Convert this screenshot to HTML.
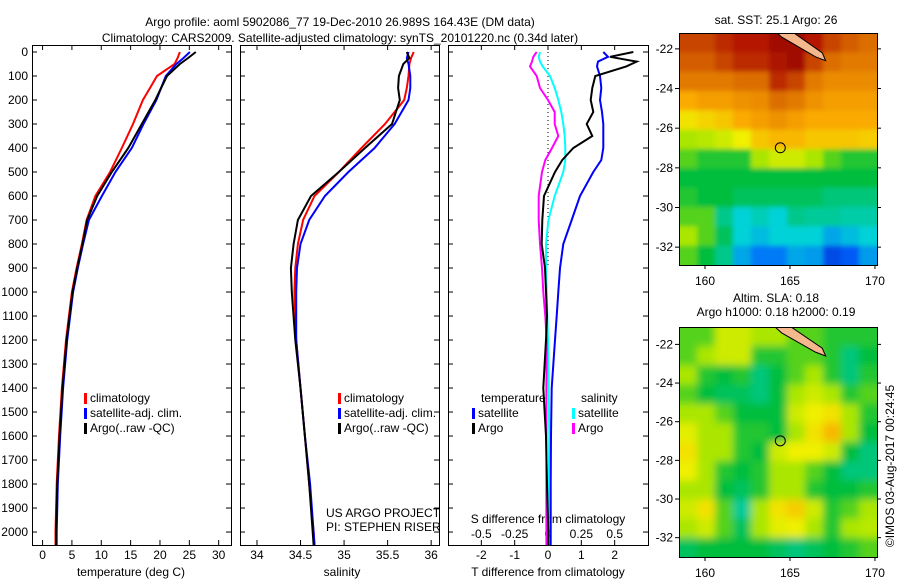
<!DOCTYPE html>
<html><head><meta charset="utf-8"><style>
body{margin:0;background:#fff;width:900px;height:580px;overflow:hidden}
svg{font-family:"Liberation Sans",sans-serif;font-size:12px}
</style></head><body>
<svg id="c" width="900" height="580">
<defs>
<filter id="blurS" x="-5%" y="-5%" width="110%" height="110%"><feGaussianBlur stdDeviation="2.5"/></filter>
<filter id="blurL" x="-5%" y="-5%" width="110%" height="110%"><feGaussianBlur stdDeviation="4"/></filter>
<clipPath id="clip1"><rect x="679" y="33" width="198" height="232"/></clipPath>
<clipPath id="clip2"><rect x="679" y="327" width="198" height="230"/></clipPath>
</defs>
</svg>
<script>
// ---- data ----
const depths=[0,25,50,100,150,200,300,400,500,600,700,800,900,1000,1200,1400,1600,1800,2000,2054];
const tempClim=[23.4,23.0,22.5,19.5,18.3,17.1,15.4,13.5,11.5,9.0,7.5,6.7,5.8,5.0,4.0,3.3,2.8,2.4,2.2,2.2];
const tempSat=[25.1,24.0,22.8,21.0,20.2,19.4,17.2,15.2,12.4,10.1,7.9,6.9,6.0,5.2,4.2,3.5,3.0,2.6,2.4,2.4];
const tempArgo=[26.1,24.8,23.4,21.2,20.2,19.2,16.9,14.6,11.8,9.3,7.6,6.8,5.9,5.1,4.1,3.4,2.9,2.5,2.3,2.3];
const salClim=[35.80,35.77,35.75,35.74,35.72,35.69,35.47,35.20,34.94,34.66,34.53,34.47,34.44,34.43,34.45,34.50,34.55,34.60,34.65,34.66];
const salSat=[35.74,35.72,35.74,35.76,35.76,35.74,35.58,35.35,35.05,34.78,34.60,34.50,34.46,34.45,34.45,34.50,34.55,34.61,34.65,34.66];
const salArgo=[35.72,35.75,35.68,35.63,35.62,35.64,35.55,35.24,34.94,34.62,34.47,34.42,34.39,34.40,34.44,34.50,34.55,34.60,34.64,34.65];
const dDepths=[0,20,40,60,100,150,200,250,300,350,400,450,500,600,700,800,900,1000,1100,1200,1400,1600,1800,2000,2054];
const dTSat=[1.66,1.80,1.50,1.47,1.56,1.60,1.56,1.62,1.66,1.66,1.66,1.60,1.36,0.96,0.71,0.46,0.36,0.31,0.26,0.21,0.11,0.09,0.08,0.08,0.08];
const dTArgo=[2.56,1.86,2.66,2.35,1.42,1.33,1.28,1.36,1.16,1.33,0.76,0.43,0.21,-0.12,-0.17,-0.19,-0.09,-0.06,-0.03,-0.06,-0.14,-0.06,-0.03,0.01,0.01];
const dSSat=[-0.06,-0.07,-0.06,-0.04,0.015,0.05,0.077,0.10,0.115,0.125,0.13,0.13,0.115,0.05,0.003,-0.015,-0.015,-0.01,-0.005,0,0.005,0.01,0.005,0.005,0.005];
const dSArgo=[-0.085,-0.11,-0.12,-0.135,-0.085,-0.06,0,0.05,0.05,0.077,0.03,-0.02,-0.045,-0.07,-0.07,-0.06,-0.045,-0.035,-0.02,-0.01,-0.012,-0.012,-0.012,-0.012,-0.012];
const depthTicks=[0,100,200,300,400,500,600,700,800,900,1000,1100,1200,1300,1400,1500,1600,1700,1800,1900,2000];
const tTicks=[0,5,10,15,20,25,30];
const sTicks=[34,34.5,35,35.5,36];
const sTickLabels=["34","34.5","35","35.5","36"];
const dtTicks=[-2,-1,0,1,2];
const dsTicks=[-0.5,-0.25,0,0.25,0.5];
const dsTickLabels=["-0.5","-0.25","0","0.25","0.5"];
const lonTicks=[160,165,170];
const latTicks=[-22,-24,-26,-28,-30,-32];
const argoLon=164.43, argoLat=-26.989;
const sstGrid=[
[0.85,0.85,0.88,0.9,0.9,0.95,0.95,0.9,0.85,0.82,0.8],
[0.82,0.82,0.85,0.88,0.88,0.92,0.95,0.85,0.8,0.78,0.78],
[0.78,0.78,0.78,0.8,0.8,0.88,0.85,0.78,0.75,0.75,0.75],
[0.7,0.72,0.72,0.74,0.75,0.8,0.78,0.74,0.72,0.72,0.72],
[0.62,0.64,0.66,0.7,0.72,0.74,0.72,0.7,0.7,0.7,0.7],
[0.5,0.52,0.55,0.6,0.66,0.68,0.68,0.66,0.66,0.66,0.65],
[0.45,0.42,0.42,0.42,0.5,0.55,0.55,0.5,0.45,0.42,0.42],
[0.4,0.4,0.4,0.4,0.4,0.4,0.4,0.4,0.4,0.4,0.4],
[0.42,0.4,0.4,0.38,0.38,0.38,0.38,0.38,0.36,0.36,0.36],
[0.45,0.45,0.35,0.3,0.32,0.3,0.35,0.34,0.34,0.33,0.33],
[0.5,0.45,0.38,0.3,0.28,0.3,0.3,0.3,0.26,0.28,0.3],
[0.45,0.4,0.35,0.26,0.22,0.22,0.26,0.25,0.15,0.18,0.25]];
const slaGrid=[
[0.45,0.45,0.55,0.55,0.5,0.5,0.45,0.45,0.42,0.42,0.42],
[0.45,0.5,0.55,0.55,0.42,0.42,0.45,0.45,0.42,0.36,0.4],
[0.5,0.42,0.4,0.42,0.36,0.4,0.45,0.5,0.42,0.36,0.42],
[0.45,0.4,0.38,0.38,0.36,0.4,0.5,0.55,0.5,0.42,0.45],
[0.5,0.5,0.45,0.4,0.4,0.4,0.55,0.6,0.62,0.5,0.42],
[0.58,0.5,0.5,0.42,0.42,0.4,0.5,0.62,0.68,0.5,0.4],
[0.62,0.5,0.5,0.42,0.4,0.55,0.6,0.6,0.55,0.4,0.36],
[0.6,0.5,0.42,0.4,0.42,0.5,0.5,0.45,0.4,0.36,0.36],
[0.5,0.5,0.4,0.38,0.42,0.5,0.5,0.42,0.4,0.4,0.42],
[0.55,0.62,0.45,0.34,0.5,0.62,0.65,0.55,0.42,0.45,0.5],
[0.5,0.55,0.45,0.38,0.5,0.58,0.6,0.5,0.42,0.5,0.52],
[0.38,0.4,0.4,0.4,0.4,0.38,0.36,0.38,0.4,0.42,0.45]];

// ---- drawing ----
const svg=document.getElementById('c');
const NS='http://www.w3.org/2000/svg';
function el(tag,attrs,parent){const e=document.createElementNS(NS,tag);for(const k in attrs)e.setAttribute(k,attrs[k]);(parent||svg).appendChild(e);return e;}
function txt(x,y,s,anchor,parent,size){const t=el('text',{x:x,y:y,'text-anchor':anchor||'start',fill:'#000'},parent);if(size)t.setAttribute('font-size',size);t.textContent=s;return t;}
function lin(d0,d1,p0,p1){return v=>p0+(v-d0)*(p1-p0)/(d1-d0);}
const Y0=52,Y1=545;
const yD=lin(0,2054,Y0,Y1);

function panel(name,x0,x1,xmin,xmax){
  const g=el('g',{},svg);
  
  
  el('rect',{x:x0+0.5,y:Y0-7+0.5,width:x1-x0,height:Y1-Y0+7,fill:'none',stroke:'#000','stroke-width':1},g);
  return {g:g,x:lin(xmin,xmax,x0,x1),x0:x0,x1:x1};
}
function line(p,xs,ys,yfun,color,name){
  const pts=xs.map((v,i)=>p.x(v).toFixed(1)+','+yfun(ys[i]).toFixed(1)).join(' ');
  const l=el('polyline',{points:pts,fill:'none',stroke:color,'stroke-width':2},p.g);
  
  
}
function xticks(p,ticks,labels,ly){
  ticks.forEach((t,i)=>{const x=p.x(t);
    el('line',{x1:x,x2:x,y1:Y1,y2:Y1-5,stroke:'#000'},p.g);
    el('line',{x1:x,x2:x,y1:Y0-7,y2:Y0-2,stroke:'#000'},p.g);
    txt(x,ly,labels?labels[i]:String(t),'middle',p.g);});
}
function yticks(p,labels){
  depthTicks.forEach(d=>{const y=yD(d);
    el('line',{x1:p.x0,x2:p.x0+5,y1:y,y2:y,stroke:'#000'},p.g);
    el('line',{x1:p.x1-5,x2:p.x1,y1:y,y2:y,stroke:'#000'},p.g);
    if(labels)txt(28,y+4,String(d),'end',p.g);});
}
function legend(p,x,y,items){
  items.forEach((it,i)=>{
    el('rect',{x:x,y:y+i*15-9,width:3,height:11,fill:it[1]},p.g);
    txt(x+6,y+i*15,it[0],'start',p.g);});
}

// titles
let t=txt(340,26,'Argo profile: aoml 5902086_77 19-Dec-2010 26.989S 164.43E (DM data)','middle');

t=txt(340,42,'Climatology: CARS2009. Satellite-adjusted climatology: synTS_20101220.nc (0.34d later)','middle');


// panel 1
const p1=panel('temperature-panel',32,231,-1.8,32.1);
yticks(p1,true);xticks(p1,tTicks,null,559);
txt(131,576,'temperature (deg C)','middle',p1.g);
line(p1,tempClim,depths,yD,'#f00','temp-climatology-line');
line(p1,tempSat,depths,yD,'#00f','temp-satellite-line');
line(p1,tempArgo,depths,yD,'#000','temp-argo-line');
legend(p1,84,402,[['climatology','#f00'],['satellite-adj. clim.','#00f'],['Argo(..raw -QC)','#000']]);

// panel 2
const p2=panel('salinity-panel',240,439,33.805,36.09);
yticks(p2,false);xticks(p2,sTicks,sTickLabels,559);
txt(342,576,'salinity','middle',p2.g);
line(p2,salClim,depths,yD,'#f00','sal-climatology-line');
line(p2,salSat,depths,yD,'#00f','sal-satellite-line');
line(p2,salArgo,depths,yD,'#000','sal-argo-line');
legend(p2,338,402,[['climatology','#f00'],['satellite-adj. clim.','#00f'],['Argo(..raw -QC)','#000']]);
txt(326,517,'US ARGO PROJECT','start',p2.g);
txt(326,531,'PI: STEPHEN RISER','start',p2.g);

// panel 3
const p3=panel('difference-panel',448,648,-3.0,3.0);
yticks(p3,false);xticks(p3,dtTicks,null,559);
txt(548,576,'T difference from climatology','middle',p3.g);
const p3s={g:p3.g,x:lin(-0.75,0.75,448,648)};
dsTicks.forEach((s,i)=>txt(p3s.x(s),538,dsTickLabels[i],'middle',p3.g));
txt(548,523,'S difference from climatology','middle',p3.g);
el('line',{x1:p3.x(0),x2:p3.x(0),y1:Y0,y2:yD(900),stroke:'#000','stroke-dasharray':'1,3'},p3.g);
line(p3s,dSSat,dDepths,yD,'#0ff','sal-diff-satellite-line');
line(p3s,dSArgo,dDepths,yD,'#f0f','sal-diff-argo-line');
line(p3,dTSat,dDepths,yD,'#00f','temp-diff-satellite-line');
line(p3,dTArgo,dDepths,yD,'#000','temp-diff-argo-line');
txt(481,402,'temperature','start',p3.g);
legend(p3,472,417,[['satellite','#00f'],['Argo','#000']]);
txt(581,402,'salinity','start',p3.g);
legend(p3,572,417,[['satellite','#0ff'],['Argo','#f0f']]);

// maps
const cstops=[[0,[0,0,150]],[0.2,[0,100,255]],[0.3,[0,210,215]],[0.4,[0,190,60]],[0.5,[170,230,0]],[0.6,[240,240,0]],[0.7,[250,170,0]],[0.8,[220,110,0]],[0.9,[180,25,0]],[1,[140,0,0]]];
function cmap(v){for(let i=1;i<cstops.length;i++){if(v<=cstops[i][0]){const a=cstops[i-1],b=cstops[i],f=(v-a[0])/(b[0]-a[0]);return 'rgb('+a[1].map((c,j)=>Math.round(c+(b[1][j]-c)*f)).join(',')+')';}}return 'rgb(140,0,0)';}
function map(name,y0,y1,latTop,latBot,grid,title,ty,clip,blur){
  const g=el('g',{},svg);
  
  
  const X0=679,X1=877,L0=158.47,L1=170.12;
  const mx=lin(L0,L1,X0,X1), my=lin(latTop,latBot,y0,y1);
  const cg=el('g',{'clip-path':'url(#'+clip+')'},g);
  const bg=el('g',{filter:'url(#'+blur+')'},cg);
  const nr=grid.length,nc=grid[0].length;
  const lonStep=(L1-L0)/nc, latStep=(latTop-latBot)/nr;
  grid.forEach((row,r)=>row.forEach((v,c)=>{
    let xa=mx(L0+c*lonStep),xb=mx(L0+(c+1)*lonStep),ya=my(latTop-r*latStep),yb=my(latTop-(r+1)*latStep);
    if(c===0)xa-=10; if(c===nc-1)xb+=10; if(r===0)ya-=10; if(r===nr-1)yb+=10;
    const cell=el('rect',{x:xa,y:ya,width:xb-xa+0.5,height:yb-ya+0.5,fill:cmap(v)},bg);
    
    
  }));
  const isl=el('polygon',{points:[[164.0,-21.0],[164.9,-21.0],[166.9,-22.2],[167.1,-22.6],[166.5,-22.4],[164.5,-21.4]].map(p=>mx(p[0])+','+my(p[1])).join(' '),fill:'#f4b88c',stroke:'#000','stroke-width':1},cg);
  
  
  el('rect',{x:X0+0.5,y:y0+0.5,width:X1-X0,height:y1-y0,fill:'none',stroke:'#000'},g);
  const circ=el('circle',{cx:mx(argoLon),cy:my(argoLat),r:5,fill:'none',stroke:'#000'},g);
  
  
  latTicks.forEach(l=>{const y=my(l);el('line',{x1:X0,x2:X0-4,y1:y,y2:y,stroke:'#000'},g);el('line',{x1:X1,x2:X1+4,y1:y,y2:y,stroke:'#000'},g);txt(673,y+4,String(l),'end',g);});
  lonTicks.forEach(l=>{const x=mx(l);el('line',{x1:x,x2:x,y1:y1,y2:y1+4,stroke:'#000'},g);txt(x,y1+20,String(l),'middle',g);});
  title.forEach((s,i)=>txt(776,ty+i*14,s,'middle',g));
}
map('sst-map',33,265,-21.2,-32.9,sstGrid,['sat. SST: 25.1  Argo: 26'],24,'clip1','blurS');
map('sla-map',327,557,-21.1,-33.0,slaGrid,['Altim. SLA: 0.18','Argo h1000: 0.18 h2000: 0.19'],302,'clip2','blurL');
t=txt(0,0,'©IMOS 03-Aug-2017 00:24:45','middle');
t.setAttribute('transform','translate(894,466) rotate(-90)');

</script>
</body></html>
